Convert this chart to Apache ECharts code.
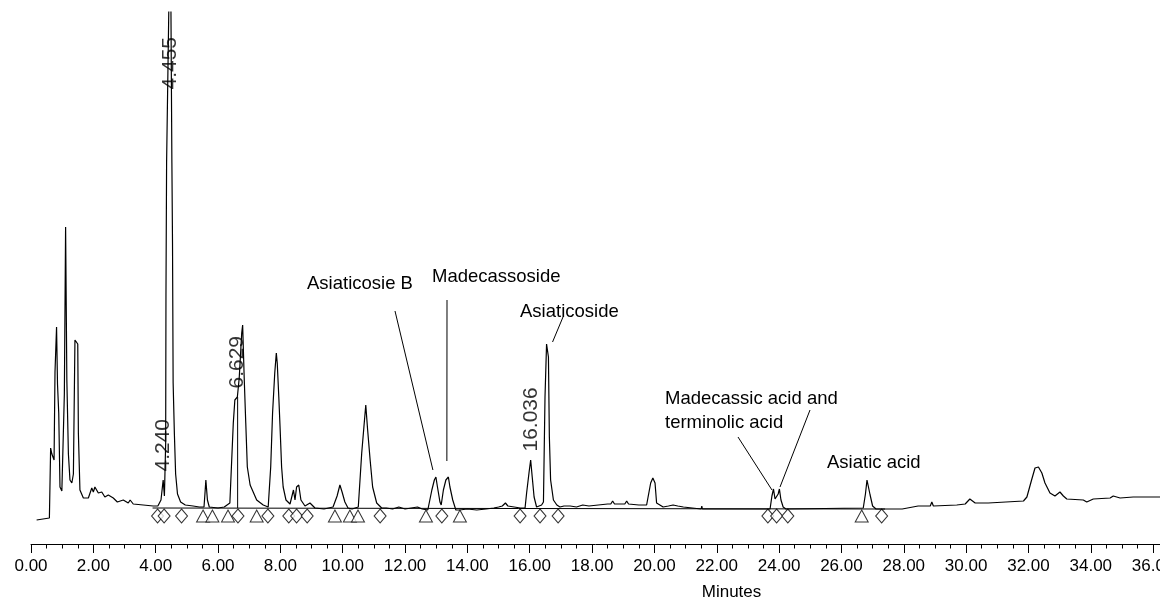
<!DOCTYPE html>
<html>
<head>
<meta charset="utf-8">
<script src="https://cdn.jsdelivr.net/npm/echarts@6/dist/echarts.min.js"></script>
<style>
  html, body { margin: 0; padding: 0; background: #fff; }
  #chart { width: 1160px; height: 599px; }
</style>
</head>
<body>
<div id="chart"></div>
<script>
// detector trace, [minutes, response]
const trace = [
  [0.18,24],[0.59,26],[0.63,96],[0.67,90],[0.74,84],[0.77,172],[0.82,217],[0.85,160],[0.89,131],[0.93,57],
  [0.99,53],[1.04,55],[1.07,150],[1.11,317],[1.15,164],[1.20,90],[1.25,64],[1.31,61],[1.36,70],[1.41,204],
  [1.44,204],[1.50,200],[1.52,111],[1.57,54],[1.68,46],[1.84,46],[1.95,56],[2.00,52],[2.05,57],[2.16,51],
  [2.27,52],[2.37,47],[2.48,49],[2.64,46],[2.77,42],[2.96,44],[3.12,41],[3.18,44],[3.28,40],[3.60,39],
  [3.92,38],[4.07,38],[4.17,44],[4.24,64],[4.28,48],[4.30,46],[4.32,100],[4.33,250],[4.35,381],[4.42,532],
  [4.455,600],[4.49,532],[4.52,381],[4.54,300],[4.56,161],[4.60,110],[4.64,70],[4.70,50],[4.80,42],[4.95,39],
  [5.20,38],[5.40,37],[5.55,37],[5.58,50],[5.61,64],[5.63,56],[5.66,44],[5.72,37],[6.00,36],[6.20,37],
  [6.38,41],[6.49,121],[6.54,144],[6.62,147],[6.68,166],[6.76,211],[6.79,219],[6.84,166],[6.89,121],[6.94,77],
  [7.03,59],[7.24,44],[7.45,39],[7.61,37],[7.69,77],[7.75,131],[7.82,171],[7.87,191],[7.90,181],[7.95,147],
  [7.99,117],[8.04,77],[8.09,57],[8.18,44],[8.31,40],[8.42,54],[8.47,44],[8.52,57],[8.59,59],[8.66,44],
  [8.79,38],[8.95,41],[9.11,36],[9.40,35],[9.69,37],[9.82,48],[9.91,59],[9.98,52],[10.07,42],[10.17,36],
  [10.30,35],[10.50,37],[10.61,91],[10.68,117],[10.74,139],[10.80,114],[10.88,84],[10.96,57],[11.09,41],[11.25,36],
  [11.40,36],[11.60,35],[11.80,37],[12.00,35],[12.20,36],[12.40,37],[12.55,35],[12.73,34],[12.86,54],[12.94,64],
  [12.99,67],[13.04,57],[13.12,42],[13.16,39],[13.23,54],[13.31,64],[13.39,67],[13.44,57],[13.53,44],[13.63,34],
  [13.75,34],[14.00,35],[14.30,34],[14.60,35],[14.85,36],[15.00,37],[15.12,38],[15.22,41],[15.30,38],[15.50,37],
  [15.70,36],[15.85,36],[15.90,51],[15.98,72],[16.03,84],[16.08,67],[16.14,47],[16.22,37],[16.38,39],[16.44,42],
  [16.49,147],[16.54,200],[16.60,187],[16.63,107],[16.67,64],[16.76,44],[16.87,39],[16.97,37],[17.10,38],[17.30,38],
  [17.50,37],[17.70,39],[17.90,38],[18.20,39],[18.50,40],[18.60,40],[18.66,43],[18.72,40],[18.90,40],[19.05,40],
  [19.11,43],[19.17,40],[19.50,39],[19.75,39],[19.88,61],[19.95,66],[20.02,61],[20.07,41],[20.28,37],[20.45,38],
  [20.60,39],[20.75,38],[20.93,37],[20.98,35],[21.50,35],[21.52,38],[21.54,35],[23.71,35],[23.77,48],[23.82,55],
  [23.87,45],[23.92,44],[23.97,50],[24.01,55],[24.06,44],[24.13,37],[24.22,35],[26.70,36],[26.77,50],[26.82,64],
  [26.86,58],[26.92,49],[27.00,38],[27.11,35],[27.95,35],[27.99,37],[28.46,38],[28.85,38],[28.90,42],[28.95,38],
  [29.70,39],[29.97,40],[30.12,45],[30.29,41],[30.71,41],[31.84,43],[31.95,47],[32.10,64],[32.21,76],[32.32,77],
  [32.43,71],[32.53,61],[32.69,51],[32.85,48],[33.01,52],[33.12,48],[33.23,45],[33.76,44],[33.87,42],[34.08,45],
  [34.62,46],[34.72,48],[34.94,46],[35.36,47],[36.22,47]
];

// integration baseline ends
const baseline = [[3.90, 36], [27.40, 35]];

// peak start / end flags
const triangleTimes = [5.52, 5.82, 6.32, 7.24, 9.75, 10.23, 10.49, 12.67, 13.76, 26.65];
const diamondTimes = [4.06, 4.27, 4.83, 6.64, 7.60, 8.27, 8.52, 8.86, 11.20, 13.18, 15.69, 16.33, 16.91, 23.64, 23.92, 24.28, 27.29];
const flagLevel = 28;

// retention time labels
const rtLabels = [4.240, 4.455, 6.629, 16.036];
const rtHeights = [64, 600, 147, 84];
const dropLineRt = 6.629;

// named compounds
const compoundNames = ['Asiaticosie B', 'Madecassoside', 'Asiaticoside', 'Madecassic acid and\nterminolic acid', 'Asiatic acid'];
const namedPeakTimes = [12.99, 13.39, 16.54, 23.82, 24.01, 26.82];
const namedPeakHeights = [67, 67, 200, 55, 55, 64];

const FONT = '"Liberation Sans", Arial, sans-serif';

const chart = echarts.init(document.getElementById('chart'));

const dropIdx = rtLabels.indexOf(dropLineRt);

chart.setOption({
  animation: false,
  grid: { left: 31, right: 0, top: 12, bottom: 55, containLabel: false, outerBoundsMode: 'none' },
  xAxis: {
    type: 'value',
    min: 0,
    max: 36.22,
    interval: 2,
    name: 'Minutes',
    nameLocation: 'middle',
    nameGap: 40,
    nameTextStyle: { fontSize: 17, color: '#000', fontFamily: FONT, padding: [0, 0, 0, 272] },
    axisLine: { lineStyle: { color: '#000', width: 1 } },
    axisTick: { length: 9, lineStyle: { color: '#000' } },
    minorTick: { show: true, splitNumber: 4, length: 4.5, lineStyle: { color: '#000' } },
    splitLine: { show: false },
    axisLabel: {
      color: '#000', fontSize: 17, fontFamily: FONT, margin: 14,
      showMaxLabel: false,
      formatter: v => v.toFixed(2)
    }
  },
  yAxis: { type: 'value', min: 0, max: 532, show: false },
  series: [
    {
      type: 'line',
      data: trace,
      showSymbol: false,
      clip: true,
      lineStyle: { color: '#000', width: 1.2 }
    },
    {
      type: 'line',
      data: baseline,
      showSymbol: false,
      lineStyle: { color: '#000', width: 1 }
    },
    {
      type: 'line',
      data: [[dropLineRt, baseline[0][1]], [dropLineRt, rtHeights[dropIdx]]],
      showSymbol: false,
      lineStyle: { color: '#000', width: 1 }
    },
    {
      type: 'scatter',
      data: triangleTimes.map(t => [t, flagLevel]),
      symbol: 'triangle',
      symbolSize: [13, 12],
      itemStyle: { color: '#fff', borderColor: '#000', borderWidth: 1 }
    },
    {
      type: 'scatter',
      data: diamondTimes.map(t => [t, flagLevel]),
      symbol: 'diamond',
      symbolSize: [12, 14],
      itemStyle: { color: '#fff', borderColor: '#000', borderWidth: 1 }
    },
    {
      type: 'scatter',
      data: rtLabels.map((t, i) => [t, Math.min(rtHeights[i], 446)]),
      symbolSize: 1,
      itemStyle: { color: 'transparent' },
      label: {
        show: true,
        position: 'top',
        distance: 8,
        rotate: 90,
        align: 'left',
        verticalAlign: 'middle',
        fontSize: 21,
        fontFamily: FONT,
        color: '#000',
        formatter: p => p.value[0].toFixed(3)
      }
    }
  ]
});

// compound names with leader lines
const px = i => chart.convertToPixel({ gridIndex: 0 }, [namedPeakTimes[i], namedPeakHeights[i]]);
const texts = [
  { name: 0, x: 307, y: 284 },
  { name: 1, x: 432, y: 277 },
  { name: 2, x: 520, y: 312 },
  { name: 3, x: 665, y: 411 },
  { name: 4, x: 827, y: 463 }
];
const leaders = [
  { from: [395, 311], peak: 0, off: [-3, -7] },
  { from: [447, 300], peak: 1, off: [-1.5, -16] },
  { from: [563, 317], peak: 2, off: [6, -2] },
  { from: [738, 437], peak: 3, off: [-1.5, 1] },
  { from: [810, 410], peak: 4, off: [0.6, -2] }
];

const graphic = [];
texts.forEach(t => {
  graphic.push({
    type: 'text', x: t.x, y: t.y,
    style: {
      text: compoundNames[t.name], fill: '#000', fontSize: 18.5, fontFamily: FONT,
      align: 'left', verticalAlign: 'middle', lineHeight: 24
    }
  });
});
leaders.forEach(l => {
  const p = px(l.peak);
  graphic.push({
    type: 'line',
    shape: { x1: l.from[0], y1: l.from[1], x2: p[0] + l.off[0], y2: p[1] + l.off[1] },
    style: { stroke: '#000', lineWidth: 1 }
  });
});
chart.setOption({ graphic: graphic });
</script>
</body>
</html>
